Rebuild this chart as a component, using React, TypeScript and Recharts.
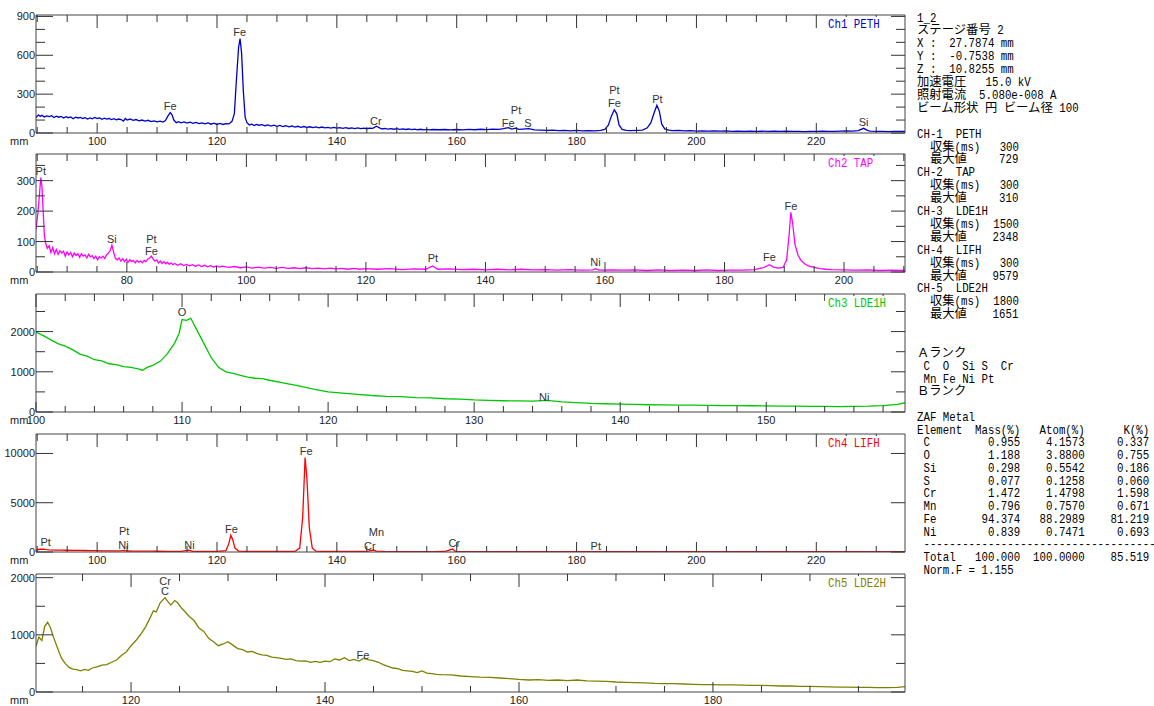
import React from "react";
import { LineChart, Line, XAxis, YAxis, ReferenceDot } from "recharts";

// spectrum points: [position mm, counts]
const ch1Points = [
  [89.8, 118], [90.2, 140], [90.5, 128], [90.8, 136], [91.2, 124], [91.6, 132], [92, 126], [92.4, 134], [92.8, 120], [93.2, 130],
  [93.6, 122], [94, 128], [94.4, 116], [94.8, 126], [95.2, 118], [95.6, 124], [96, 110], [96.4, 122], [96.8, 116], [97.2, 120],
  [97.6, 112], [98, 118], [98.4, 108], [98.8, 116], [99.2, 110], [99.6, 120], [100, 112], [100.4, 116], [100.8, 106], [101.2, 114],
  [101.6, 108], [102, 112], [102.4, 104], [102.8, 110], [103.2, 102], [103.6, 108], [104, 104], [104.4, 92], [104.7, 112], [105, 100],
  [105.5, 108], [106, 98], [106.5, 104], [107, 94], [107.5, 100], [108, 92], [108.5, 98], [109, 88], [109.5, 94], [110, 86],
  [110.5, 92], [111, 84], [111.4, 96], [111.8, 130], [112.2, 158], [112.5, 140], [112.8, 100], [113.2, 80], [113.6, 88], [114, 78],
  [114.5, 86], [115, 76], [115.5, 84], [116, 74], [116.5, 82], [117, 72], [117.5, 78], [118, 70], [118.5, 78], [119, 68],
  [119.5, 76], [120, 66], [120.5, 74], [121, 66], [121.5, 72], [122, 70], [122.5, 90], [122.9, 150], [123.2, 380], [123.6, 660],
  [123.85, 729], [124.1, 620], [124.4, 320], [124.7, 120], [125, 80], [125.4, 62], [125.8, 68], [126.2, 58], [126.6, 66], [127, 60],
  [127.5, 64], [128, 56], [128.5, 62], [129, 54], [129.5, 60], [130, 52], [130.5, 58], [131, 50], [131.5, 56], [132, 48],
  [132.5, 54], [133, 46], [133.5, 52], [134, 44], [134.5, 50], [135, 44], [135.5, 48], [136, 42], [136.5, 47], [137, 40],
  [137.5, 46], [138, 40], [138.5, 44], [139, 38], [139.5, 43], [140, 37], [140.5, 42], [141, 36], [141.5, 41], [142, 35],
  [142.5, 40], [143, 34], [143.5, 39], [144, 34], [144.5, 37], [145, 33], [145.5, 38], [146, 36], [146.6, 52], [147.2, 38],
  [147.6, 31], [148, 35], [148.5, 30], [149, 34], [149.5, 29], [150, 33], [150.5, 28], [151, 32], [151.5, 27], [152, 31],
  [152.5, 26], [153, 30], [153.5, 25], [154, 29], [154.5, 24], [155, 28], [155.5, 24], [156, 27], [157, 25], [158, 27],
  [159, 24], [160, 27], [161, 24], [162, 28], [163, 25], [164, 29], [165, 26], [166, 30], [167, 28], [167.8, 33],
  [168.6, 42], [169.2, 30], [169.8, 38], [170.4, 28], [171, 30], [172, 34], [173, 24], [174, 22], [175, 20], [176, 22],
  [177, 18], [178, 21], [179, 17], [180, 20], [181, 16], [182, 19], [183, 17], [184, 20], [184.7, 28], [185.3, 60],
  [185.8, 130], [186.3, 179], [186.7, 150], [187.1, 60], [187.6, 28], [188.3, 20], [189, 18], [190, 20], [191, 22], [191.8, 40],
  [192.4, 80], [192.9, 150], [193.4, 214], [193.8, 170], [194.2, 70], [194.7, 32], [195.4, 22], [196, 18], [197, 20], [198, 16],
  [199, 18], [200, 15], [201, 17], [202, 14], [203, 16], [204, 14], [205, 16], [206, 13], [207, 15], [208, 13],
  [209, 15], [210, 12], [211, 14], [212, 12], [213, 14], [214, 12], [215, 14], [216, 12], [217, 13], [218, 11],
  [219, 13], [220, 12], [221, 14], [222, 12], [223, 13], [224, 14], [225, 16], [226, 14], [227, 18], [227.9, 36],
  [228.6, 18], [229, 14], [230, 12], [231, 13], [232, 11], [233, 13], [234, 12], [234.8, 12],
];

const ch2Points = [
  [64.8, 140], [65.1, 190], [65.4, 260], [65.6, 310], [65.8, 280], [66, 200], [66.2, 120], [66.4, 95], [66.7, 78], [67, 86],
  [67.3, 64], [67.6, 80], [67.9, 60], [68.2, 74], [68.5, 58], [68.8, 70], [69.1, 62], [69.4, 68], [69.7, 52], [70, 66],
  [70.3, 56], [70.6, 64], [70.9, 50], [71.2, 62], [71.5, 54], [71.8, 60], [72.1, 48], [72.4, 60], [72.7, 52], [73, 56],
  [73.3, 46], [73.6, 58], [73.9, 50], [74.2, 54], [74.5, 44], [74.8, 52], [75.1, 40], [75.4, 50], [75.7, 46], [76, 52],
  [76.3, 44], [76.6, 56], [76.9, 62], [77.2, 70], [77.5, 88], [77.8, 64], [78.1, 44], [78.4, 40], [78.7, 46], [79, 36],
  [79.3, 44], [79.6, 34], [79.9, 42], [80.2, 32], [80.5, 40], [80.8, 34], [81.1, 38], [81.4, 30], [81.7, 38], [82, 32],
  [82.3, 36], [82.6, 30], [82.9, 38], [83.2, 34], [83.5, 42], [83.8, 46], [84.1, 52], [84.4, 42], [84.7, 36], [85, 40],
  [85.3, 30], [85.6, 36], [85.9, 28], [86.2, 34], [86.5, 27], [86.8, 32], [87.1, 25], [87.4, 30], [87.7, 24], [88, 28],
  [88.5, 22], [89, 27], [89.5, 21], [90, 25], [90.5, 20], [91, 24], [91.5, 19], [92, 23], [92.5, 18], [93, 22],
  [93.5, 17], [94, 21], [94.5, 16], [95, 20], [95.5, 16], [96, 19], [97, 15], [98, 18], [99, 14], [100, 17],
  [101, 13], [102, 16], [103, 13], [104, 15], [105, 12], [106, 15], [107, 12], [108, 14], [109, 11], [110, 14],
  [111, 11], [112, 13], [113, 10], [114, 13], [115, 10], [116, 12], [117, 9], [118, 12], [119, 9], [120, 11],
  [122, 9], [124, 11], [126, 8], [128, 10], [130, 9], [131.2, 20], [132, 9], [134, 10], [136, 8], [138, 9],
  [140, 7], [142, 9], [144, 7], [146, 9], [148, 7], [150, 8], [152, 6], [154, 8], [156, 6], [158, 7],
  [158.4, 11], [159, 6], [161, 7], [163, 6], [165, 7], [167, 5], [169, 7], [171, 5], [173, 6], [175, 5],
  [177, 7], [179, 5], [181, 6], [183, 6], [185, 8], [186.5, 14], [187.5, 24], [188.2, 16], [189, 13], [189.8, 15],
  [190.4, 40], [190.8, 120], [191.1, 196], [191.4, 160], [191.8, 90], [192.3, 55], [192.8, 38], [193.4, 27], [194, 20], [195, 15],
  [196, 11], [197, 9], [198, 8], [200, 7], [202, 6], [204, 7], [206, 5], [208, 6], [210.2, 5],
];

const ch3Points = [
  [100, 1990], [100.5, 1900], [101, 1800], [101.5, 1700], [102, 1640], [102.5, 1550], [103, 1440], [103.5, 1390], [104, 1300], [104.5, 1270],
  [105, 1200], [105.5, 1180], [106, 1130], [106.5, 1110], [107, 1070], [107.3, 1040], [107.6, 1110], [108, 1160], [108.5, 1260], [109, 1450],
  [109.5, 1720], [109.8, 1960], [110, 2300], [110.3, 2280], [110.6, 2330], [111, 2050], [111.5, 1700], [112, 1350], [112.5, 1110], [113, 1000],
  [113.5, 960], [114, 910], [114.5, 870], [115, 840], [115.5, 830], [116, 790], [117, 720], [118, 650], [119, 570], [120, 500],
  [121, 470], [122, 440], [123, 410], [124, 390], [125, 380], [126, 360], [127, 350], [128, 330], [129, 320], [130, 300],
  [131, 290], [132, 280], [133, 275], [134, 270], [135, 290], [136, 250], [137, 235], [138, 215], [139, 205], [140, 195],
  [141, 190], [142, 180], [143, 175], [144, 170], [145, 170], [146, 165], [147, 160], [148, 160], [149, 155], [150, 150],
  [151, 148], [152, 145], [153, 140], [154, 138], [155, 135], [156, 140], [157, 145], [158, 160], [159, 190], [159.5, 230],
];

const ch4Points = [
  [89.8, 200], [90.5, 280], [91, 300], [91.5, 250], [92, 220], [93, 200], [94, 190], [95, 180], [96, 170], [97, 160],
  [98, 150], [99, 140], [100, 130], [101, 120], [102, 115], [103, 110], [104, 105], [104.6, 170], [105.2, 100], [106, 95],
  [107, 90], [108, 85], [109, 80], [110, 75], [112, 70], [114, 70], [115.3, 180], [116, 70], [118, 60], [120, 60],
  [121.5, 150], [122, 900], [122.3, 1700], [122.6, 1300], [123, 400], [123.6, 90], [125, 60], [127, 55], [129, 55], [131, 55],
  [133, 60], [133.8, 400], [134.3, 3500], [134.7, 9579], [135, 7500], [135.4, 2500], [135.9, 400], [136.5, 80], [138, 55], [140, 50],
  [142, 50], [144, 50], [145.3, 90], [146, 200], [146.6, 90], [148, 50], [150, 48], [152, 48], [154, 46], [156, 46],
  [158, 50], [159.3, 300], [159.8, 60], [162, 45], [165, 45], [170, 44], [175, 44], [180, 43], [185, 43], [190, 42],
  [195, 42], [200, 42], [205, 41], [210, 41], [215, 40], [220, 40], [225, 40], [230, 40], [234.8, 40],
];

const ch5Points = [
  [110.2, 800], [110.5, 960], [110.8, 900], [111.1, 1150], [111.4, 1220], [111.7, 1120], [112, 960], [112.4, 780], [112.8, 600], [113.2, 500],
  [113.6, 430], [114, 400], [114.4, 390], [114.8, 370], [115.2, 395], [115.6, 380], [116, 420], [116.5, 440], [117, 470], [117.5, 480],
  [118, 520], [118.5, 560], [119, 640], [119.5, 700], [120, 810], [120.5, 900], [121, 1010], [121.5, 1140], [122, 1310], [122.3, 1420],
  [122.6, 1400], [123, 1560], [123.5, 1650], [123.8, 1580], [124.1, 1520], [124.5, 1600], [124.8, 1560], [125.2, 1470], [125.6, 1400], [126, 1320],
  [126.5, 1250], [127, 1120], [127.5, 1060], [128, 940], [128.5, 880], [129, 810], [129.5, 840], [130, 880], [130.5, 820], [131, 760],
  [131.5, 740], [132, 700], [132.5, 710], [133, 670], [133.5, 650], [134, 640], [134.5, 610], [135, 600], [135.5, 590], [136, 570],
  [136.5, 580], [137, 550], [137.5, 540], [138, 545], [138.5, 520], [139, 535], [139.5, 520], [140, 540], [140.5, 530], [141, 580],
  [141.5, 560], [142, 600], [142.5, 550], [143, 570], [143.5, 540], [144, 590], [144.5, 560], [145, 550], [145.5, 520], [146, 480],
  [146.5, 450], [147, 420], [147.5, 410], [148, 380], [148.5, 370], [149, 360], [149.5, 340], [150, 370], [150.5, 330], [151, 320],
  [151.5, 310], [152, 305], [153, 300], [154, 280], [155, 270], [156, 260], [157, 255], [158, 245], [159, 235], [160, 220],
  [161, 210], [162, 215], [163, 205], [164, 210], [165, 200], [166, 210], [167, 195], [168, 190], [169, 185], [170, 175],
  [171, 170], [172, 165], [173, 160], [174, 150], [175, 145], [176, 145], [177, 140], [178, 135], [179, 130], [180, 130],
  [181, 125], [182, 125], [183, 120], [184, 115], [185, 115], [186, 110], [187, 105], [188, 105], [189, 100], [190, 100],
  [191, 95], [192, 90], [193, 85], [194, 85], [195, 80], [196, 80], [197, 78], [198, 75], [199, 80], [199.8, 95],
];

// peak annotations: [position, counts, element]
const ch1Peaks = [
  [112.2, 208, "Fe"], [123.8, 780, "Fe"], [146.5, 95, "Cr"], [168.6, 75, "Fe"], [169.9, 178, "Pt"], [171.9, 75, "S"],
  [186.3, 332, "Pt"], [186.3, 232, "Fe"], [193.5, 260, "Pt"], [227.9, 87, "Si"],
];
const ch2Peaks = [
  [65.6, 331, "Pt"], [77.5, 108, "Si"], [84.1, 108, "Pt"], [84.1, 70, "Fe"], [131.2, 45, "Pt"], [158.4, 32, "Ni"],
  [187.5, 48, "Fe"], [191.1, 216, "Fe"],
];
const ch3Peaks = [[110, 2491, "O"], [134.8, 376, "Ni"]];
const ch4Peaks = [
  [91.4, 1046, "Pt"], [104.5, 2164, "Pt"], [104.4, 710, "Ni"], [115.4, 710, "Ni"], [122.4, 2300, "Fe"], [134.9, 10280, "Fe"],
  [146.6, 2060, "Mn"], [145.5, 640, "Cr"], [159.6, 883, "Cr"], [183.2, 640, "Pt"],
];
const ch5Peaks = [[123.5, 1940, "Cr"], [123.5, 1770, "C"], [143.9, 647, "Fe"]];

const channelNames = ["Ch1 PETH", "Ch2 TAP", "Ch3 LDE1H", "Ch4 LIFH", "Ch5 LDE2H"];
const channelColors = ["#0000CC", "#FF00FF", "#00C800", "#FF0000", "#808000"];
const xDomains = [[89.8, 234.8], [64.8, 210.2], [100, 159.5], [89.8, 234.8], [110.2, 199.8]];
const yMaxes = [911, 387.5, 2935, 11974, 2064];
const xLabelTicks = [
  [100, 120, 140, 160, 180, 200, 220],
  [80, 100, 120, 140, 160, 180, 200],
  [100, 110, 120, 130, 140, 150],
  [100, 120, 140, 160, 180, 200, 220],
  [120, 140, 160, 180],
];
const xMinorSteps = [5, 5, 2, 5, 5];
const yLabelTicks = [
  [0, 300, 600, 900],
  [0, 100, 200, 300],
  [0, 1000, 2000],
  [0, 5000, 10000],
  [0, 1000, 2000],
];
const yMinorSteps = [100, 50, 500, 5000, 500];

// info column
const infoLines = [
  "1_2",
  "ステージ番号 2",
  "X :  27.7874 mm",
  "Y :  -0.7538 mm",
  "Z :  10.8255 mm",
  "加速電圧   15.0 kV",
  "照射電流  5.080e-008 A",
  "ビーム形状 円 ビーム径 100",
  "",
  "CH-1  PETH",
  "  収集(ms)   300",
  "  最大値     729",
  "CH-2  TAP",
  "  収集(ms)   300",
  "  最大値     310",
  "CH-3  LDE1H",
  "  収集(ms)  1500",
  "  最大値    2348",
  "CH-4  LIFH",
  "  収集(ms)   300",
  "  最大値    9579",
  "CH-5  LDE2H",
  "  収集(ms)  1800",
  "  最大値    1651",
];
const rankLines = ["Ａランク", " C  O  Si S  Cr", " Mn Fe Ni Pt", "Ｂランク"];
const zafElements = ["C", "O", "Si", "S", "Cr", "Mn", "Fe", "Ni"];
const zafMass = ["0.955", "1.188", "0.298", "0.077", "1.472", "0.796", "94.374", "0.839"];
const zafAtom = ["4.1573", "3.8800", "0.5542", "0.1258", "1.4798", "0.7570", "88.2989", "0.7471"];
const zafK = ["0.337", "0.755", "0.186", "0.060", "1.598", "0.671", "81.219", "0.693"];
const zafTotal = ["100.000", "100.0000", "85.519"];
const normF = "1.155";

const PLOT_H = 118;
const PAD_TOP = 9;
const PANEL_TOPS = [15, 154, 294, 434, 574];
const FRAME = "#444";
const TICK = "#333";
const SANS = "'Liberation Sans', Arial, sans-serif";

const steps = (a: number, b: number, s: number) => {
  const out: number[] = [];
  for (let v = Math.ceil(a / s) * s; v <= b + 1e-9; v += s) out.push(+v.toFixed(3));
  return out;
};

const HALF = 6.45;
const FULL = 12.3;
const isWide = (c: string) => c.charCodeAt(0) > 0x2e7f;

function Mono({ x, y, s, fill = "#000", end = false }: { x: number; y: number; s: string; fill?: string; end?: boolean }) {
  const runs: { t: string; k: string }[] = [];
  for (const c of s) {
    const k = c === " " ? "sp" : isWide(c) ? "w" : "n";
    const last = runs[runs.length - 1];
    if (last && last.k === k) last.t += c;
    else runs.push({ t: c, k });
  }
  const w = (r: { t: string; k: string }) => [...r.t].length * (r.k === "w" ? FULL : HALF);
  const total = runs.reduce((a, r) => a + w(r), 0);
  let cx = end ? x - total : x;
  return (
    <g>
      {runs.map((r, i) => {
        const len = w(r);
        const x0 = cx;
        cx += len;
        if (r.k === "sp") return null;
        return (
          <text
            key={i}
            x={x0}
            y={y}
            textLength={len}
            lengthAdjust="spacingAndGlyphs"
            fontFamily={r.k === "w" ? "'Noto Sans CJK JP'" : "'Liberation Mono', monospace"}
            fontSize={r.k === "w" ? 12.3 : 13}
            fill={fill}
          >
            {r.t}
          </text>
        );
      })}
    </g>
  );
}

function BottomTick(props: any) {
  const { x, y, payload, labels } = props;
  const major = labels.includes(payload.value);
  return (
    <g>
      <line x1={x} x2={x} y1={y} y2={y - (major ? 10 : 6)} stroke={TICK} />
      {major && (
        <text x={x} y={y + 12} textAnchor="middle" fontSize={11} fill="#222" fontFamily={SANS}>
          {payload.value}
        </text>
      )}
    </g>
  );
}

function TopTick(props: any) {
  const { x, y, payload, labels } = props;
  const major = labels.includes(payload.value);
  return <line x1={x} x2={x} y1={y} y2={y + (major ? 13 : 7)} stroke={TICK} />;
}

function LeftTick(props: any) {
  const { x, y, payload, labels } = props;
  const major = labels.includes(payload.value);
  return (
    <g>
      <line x1={x} x2={x + (major ? 17 : 9)} y1={y} y2={y} stroke={TICK} />
      {major && (
        <text x={x - 1} y={y + 4} textAnchor="end" fontSize={11} fill="#222" fontFamily={SANS}>
          {payload.value}
        </text>
      )}
    </g>
  );
}

function RightTick(props: any) {
  const { x, y, payload, labels } = props;
  const major = labels.includes(payload.value);
  return <line x1={x} x2={x - (major ? 14 : 9)} y1={y} y2={y} stroke={TICK} />;
}

function Panel({ i }: { i: number }) {
  const rows = [ch1Points, ch2Points, ch3Points, ch4Points, ch5Points][i].map(([x, y]) => ({ x, y }));
  const peaks = [ch1Peaks, ch2Peaks, ch3Peaks, ch4Peaks, ch5Peaks][i];
  const xd = xDomains[i];
  const xTicks = steps(xd[0], xd[1], xMinorSteps[i]);
  const yTicks = steps(0, yMaxes[i], yMinorSteps[i]);
  const xl = xLabelTicks[i];
  const yl = yLabelTicks[i];
  return (
    <div style={{ position: "absolute", left: 0, top: PANEL_TOPS[i] - PAD_TOP }}>
      <LineChart
        width={910}
        height={PAD_TOP + PLOT_H + 20}
        data={rows}
        margin={{ top: PAD_TOP - 1, right: 4, bottom: 0, left: 0 }}
      >
        <XAxis
          xAxisId="b"
          dataKey="x"
          type="number"
          domain={xd}
          allowDataOverflow
          ticks={xTicks}
          interval={0}
          tickSize={0}
          tickMargin={0}
          height={20}
          axisLine={{ stroke: FRAME }}
          tickLine={false}
          tick={(t: any) => <BottomTick {...t} labels={xl} />}
        />
        <XAxis
          xAxisId="t"
          orientation="top"
          dataKey="x"
          type="number"
          domain={xd}
          allowDataOverflow
          ticks={xTicks}
          interval={0}
          tickSize={0}
          tickMargin={0}
          height={1}
          axisLine={{ stroke: FRAME }}
          tickLine={false}
          tick={(t: any) => <TopTick {...t} labels={xl} />}
        />
        <YAxis
          yAxisId="l"
          type="number"
          domain={[0, yMaxes[i]]}
          allowDataOverflow
          ticks={yTicks}
          interval={0}
          tickSize={0}
          tickMargin={0}
          width={36}
          axisLine={{ stroke: FRAME }}
          tickLine={false}
          tick={(t: any) => <LeftTick {...t} labels={yl} />}
        />
        <YAxis
          yAxisId="r"
          orientation="right"
          type="number"
          domain={[0, yMaxes[i]]}
          allowDataOverflow
          ticks={yTicks}
          interval={0}
          tickSize={0}
          tickMargin={0}
          width={1}
          axisLine={{ stroke: FRAME }}
          tickLine={false}
          tick={(t: any) => <RightTick {...t} labels={yl} />}
        />
        <Line
          xAxisId="b"
          yAxisId="l"
          type="linear"
          dataKey="y"
          stroke={channelColors[i]}
          strokeWidth={1.3}
          dot={false}
          isAnimationActive={false}
        />
        {peaks.map((p, k) => (
          <ReferenceDot
            key={k}
            xAxisId="b"
            yAxisId="l"
            x={p[0] as number}
            y={p[1] as number}
            r={0}
            fill="none"
            stroke="none"
            label={{ value: p[2] as string, position: "center", fontSize: 11, fill: "#333", fontFamily: SANS }}
          />
        ))}
      </LineChart>
    </div>
  );
}

export default function App() {
  const LH = 12.9;
  const rankTop = 352.5;
  const zafRows = zafElements.map(
    (el, k) => (" " + el).padEnd(7) + zafMass[k].padStart(9) + zafAtom[k].padStart(10) + zafK[k].padStart(10)
  );
  const lower = [
    ...rankLines,
    "",
    "ZAF Metal",
    "Element  Mass(%)   Atom(%)      K(%)",
    ...zafRows,
    " " + "-".repeat(36),
    " Total".padEnd(7) + zafTotal[0].padStart(9) + zafTotal[1].padStart(10) + zafTotal[2].padStart(10),
    " Norm.F = " + normF,
  ];
  return (
    <div style={{ position: "absolute", left: 0, top: 0, width: 1154, height: 706, background: "#fff" }}>
      {channelNames.map((_, i) => (
        <Panel key={i} i={i} />
      ))}
      <svg width={1154} height={706} style={{ position: "absolute", left: 0, top: 0, pointerEvents: "none" }}>
        {channelNames.map((n, i) => (
          <g key={n}>
            <rect x={825} y={PANEL_TOPS[i] + 2} width={n.length * HALF + 6} height={14} fill="#fff" />
            <Mono x={828} y={PANEL_TOPS[i] + 13} s={n} fill={channelColors[i]} />
            <text x={10} y={PANEL_TOPS[i] + PLOT_H + 12} fontSize={11} fill="#222" fontFamily={SANS}>
              mm
            </text>
          </g>
        ))}
        {infoLines.map((s, k) => (s ? <Mono key={"i" + k} x={917} y={17 + 4.5 + k * LH} s={s} /> : null))}
        {lower.map((s, k) => (s ? <Mono key={"l" + k} x={917} y={rankTop + 4.5 + k * 12.75} s={s} /> : null))}
      </svg>
    </div>
  );
}
